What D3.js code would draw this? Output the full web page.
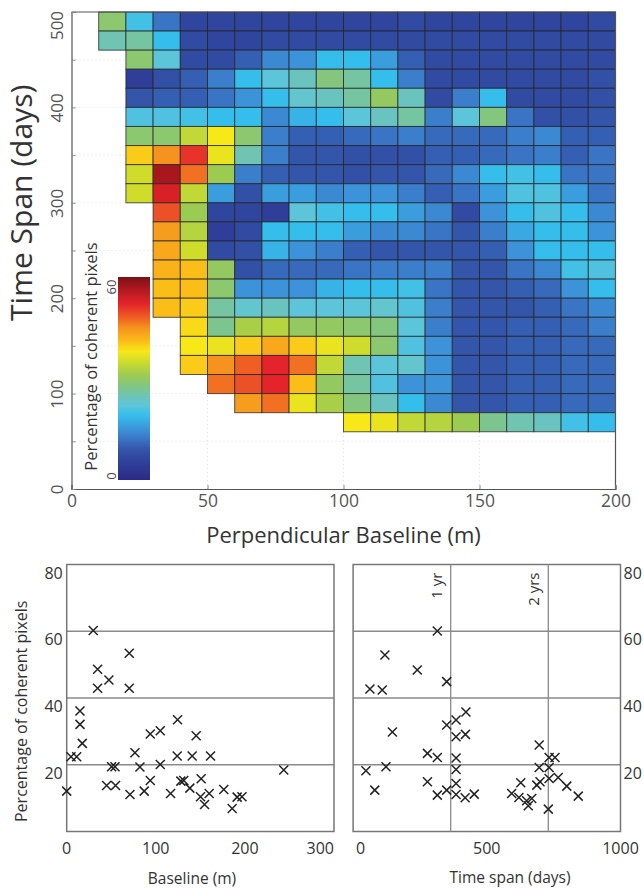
<!DOCTYPE html>
<html>
<head>
<meta charset="utf-8">
<script src="https://cdn.jsdelivr.net/npm/d3@7"></script>
<style>
  body { margin: 0; background: #fff; }
  svg { display: block; font-family: "Open Sans", sans-serif; }
</style>
</head>
<body>
<div id="chart"></div>
<script>
// (1) DATA

// heatmap: baseline bins (m, left edge) and time span bins (days, lower edge, top row first)
const baselineBins = [0, 10, 20, 30, 40, 50, 60, 70, 80, 90, 100, 110, 120, 130, 140, 150, 160, 170, 180, 190];
const timeBins = [480, 460, 440, 420, 400, 380, 360, 340, 320, 300, 280, 260, 240, 220, 200, 180, 160, 140, 120, 100, 80, 60];
const _ = null;
// percentage of coherent pixels, one row per time bin
const coherence = [
  [_, 29, 20, 12, 6, 6, 6, 6, 6, 6, 6, 6, 7, 6, 6, 6, 6, 6, 6, 7],
  [_, 25, 26, 19, 7, 6, 6, 7, 7, 7, 7, 7, 7, 7, 7, 7, 7, 7, 7, 7],
  [_, _, 29, 22, 7, 7, 10, 14, 15, 19, 19, 16, 10, 7, 7, 7, 7, 7, 7, 7],
  [_, _, 5, 8, 10, 13, 19, 22, 24, 28, 26, 19, 13, 7, 7, 7, 7, 7, 7, 8],
  [_, _, 9, 10, 10, 12, 15, 19, 23, 24, 26, 30, 24, 7, 13, 19, 7, 7, 7, 8],
  [_, _, 21, 21, 20, 19, 19, 14, 18, 19, 22, 24, 26, 13, 22, 28, 12, 8, 8, 9],
  [_, _, 29, 29, 34, 38, 29, 13, 10, 10, 11, 12, 13, 11, 11, 11, 13, 14, 10, 10],
  [_, _, 40, 45, 51, 37, 25, 13, 9, 9, 8, 8, 8, 10, 10, 11, 12, 13, 10, 12],
  [_, _, 35, 57, 47, 31, 13, 10, 9, 9, 8, 9, 9, 11, 14, 19, 20, 19, 12, 12],
  [_, _, 35, 53, 34, 16, 8, 16, 16, 14, 15, 15, 13, 10, 12, 16, 21, 21, 16, 12],
  [_, _, _, 49, 31, 6, 6, 5, 22, 20, 19, 19, 16, 14, 7, 15, 19, 21, 19, 14],
  [_, _, _, 44, 33, 5, 7, 19, 19, 19, 16, 14, 14, 12, 9, 13, 17, 19, 19, 15],
  [_, _, _, 43, 35, 7, 8, 18, 15, 13, 10, 9, 9, 9, 9, 10, 15, 19, 19, 19],
  [_, _, _, 42, 41, 30, 8, 11, 11, 11, 12, 13, 13, 13, 9, 9, 12, 14, 20, 21],
  [_, _, _, 41, 41, 29, 15, 15, 15, 18, 19, 19, 20, 12, 9, 9, 10, 11, 15, 19],
  [_, _, _, 41, 40, 26, 23, 24, 22, 22, 22, 23, 21, 13, 9, 9, 9, 10, 12, 14],
  [_, _, _, _, 39, 27, 32, 33, 30, 30, 29, 28, 22, 13, 9, 9, 10, 10, 11, 13],
  [_, _, _, _, 38, 37, 40, 43, 40, 37, 35, 29, 21, 15, 9, 9, 10, 10, 11, 11],
  [_, _, _, _, 40, 45, 48, 52, 47, 34, 25, 22, 23, 15, 9, 9, 10, 10, 11, 11],
  [_, _, _, _, _, 47, 49, 52, 41, 30, 26, 21, 15, 15, 9, 9, 10, 10, 11, 11],
  [_, _, _, _, _, _, 44, 47, 37, 32, 28, 24, 19, 14, 9, 9, 10, 10, 11, 11],
  [_, _, _, _, _, _, _, _, _, _, 38, 37, 34, 33, 31, 27, 25, 24, 20, 19]
];

// scatter: baseline (m) vs percentage
const baselineX = [29.8, 70.2, 34.7, 47.4, 34.7, 70.2, 14.9, 14.9, 17.5, 4.8, 11.2, 0, 50.4, 54.2, 44.8, 54.8, 71, 76.6, 82.2, 87, 93.8, 93.8, 105, 105, 116.6, 124.4, 124, 128.1, 131.4, 138.2, 140.8, 145.3, 150.9, 150.2, 154.7, 159.9, 161.4, 176.3, 185.7, 191.3, 196.7, 243.6];
const baselineY = [60.2, 53.4, 48.6, 45.4, 42.9, 42.9, 36.1, 32.1, 26.4, 22.4, 22.4, 12.1, 19.4, 19.4, 13.8, 13.8, 11.1, 23.6, 19.3, 12.1, 15.3, 29.2, 30.2, 20.1, 11.4, 33.5, 22.6, 15.1, 15.3, 13.0, 22.6, 28.7, 15.8, 10.4, 8.1, 11.4, 22.6, 12.6, 6.9, 10.3, 10.4, 18.4];

// scatter: time span (days) vs percentage
const spanX = [315, 119, 240, 350, 63, 109, 422, 385, 350, 147, 385, 420, 278, 315, 385, 385, 48, 123, 278, 385, 81, 315, 350, 385, 419, 453, 593, 627, 620, 649, 655, 668, 687, 699, 696, 696, 733, 733, 755, 733, 730, 767, 799, 842];
const spanY = [60.1, 52.9, 48.4, 44.9, 42.7, 42.4, 35.8, 33.4, 31.9, 29.8, 28.4, 29.1, 23.4, 22.2, 22.0, 18.6, 18.2, 19.4, 14.9, 14.4, 12.4, 10.9, 12.4, 11.1, 10.1, 11.2, 11.4, 14.6, 10.2, 9.2, 7.7, 9.9, 13.9, 14.9, 25.9, 19.2, 19.2, 22.2, 22.2, 15.9, 6.7, 16.2, 13.6, 10.6];

const yearMarks = [365, 730];
const yearLabels = ["1 yr", "2 yrs"];

// (2) SETUP
const width = 644, height = 888;
const svg = d3.select("#chart").append("svg")
  .attr("width", width).attr("height", height)
  .attr("viewBox", [0, 0, width, height]);
svg.append("rect").attr("width", width).attr("height", height).attr("fill", "#fff");

// printed "jet" palette
const colorStops = [0, 5, 9, 12, 15, 19, 22, 25, 28, 31, 35, 38, 41, 45, 48, 52, 57, 60];
const colorList = ["#2a2a85", "#2f3f99", "#3355aa", "#3a74c4", "#3c93d9", "#35bdec", "#5dc5da", "#6fc4b2",
  "#84c67e", "#9ccb52", "#cfdc2c", "#f7e818", "#fbbd18", "#f6921f", "#ef5f24", "#e4242a", "#a8171d", "#7a1214"];
const color = d3.scaleLinear().domain(colorStops).range(colorList).clamp(true);

// (3) HEATMAP
const hx = d3.scaleLinear().domain([0, 200]).range([71.5, 615.5]);
const hy = d3.scaleLinear().domain([0, 500]).range([489, 12]);

const hm = svg.append("g");

// faint dotted grid
hm.append("g").selectAll("line.v").data([50, 100, 150]).join("line")
  .attr("x1", d => hx(d)).attr("x2", d => hx(d)).attr("y1", hy(0)).attr("y2", hy(500))
  .attr("stroke", "#ddd").attr("stroke-dasharray", "1,3");
hm.append("g").selectAll("line.h").data([50, 100, 150, 200, 250, 300, 350, 400, 450]).join("line")
  .attr("x1", hx(0)).attr("x2", hx(200)).attr("y1", d => hy(d)).attr("y2", d => hy(d))
  .attr("stroke", "#ddd").attr("stroke-dasharray", "1,3");

const cells = [];
timeBins.forEach((t, i) => baselineBins.forEach((b, j) => {
  const v = coherence[i][j];
  if (v != null) cells.push({b, t, v});
}));

hm.append("g").selectAll("rect").data(cells).join("rect")
  .attr("x", d => hx(d.b))
  .attr("y", d => hy(d.t + 20))
  .attr("width", hx(10) - hx(0))
  .attr("height", hy(0) - hy(20))
  .attr("fill", d => color(d.v))
  .attr("stroke", "#222")
  .attr("stroke-opacity", 0.75)
  .attr("stroke-width", 1);

// frame
hm.append("path")
  .attr("d", `M${hx(0)},${hy(500)}H${hx(200)}V${hy(0)}`)
  .attr("fill", "none").attr("stroke", "#555").attr("stroke-width", 1.2);

// axes
const hxAxis = d3.axisBottom(hx).tickValues([0, 50, 100, 150, 200]).tickSize(-4).tickPadding(6);
hm.append("g").attr("transform", `translate(0,${hy(0)})`).call(hxAxis)
  .call(g => g.select(".domain").attr("stroke", "#555").attr("stroke-width", 1.2))
  .call(g => g.selectAll(".tick line").attr("stroke", "#888"))
  .call(g => g.selectAll("text").attr("font-size", 17.5).attr("fill", "#555")
    .attr("font-family", "Open Sans, sans-serif"));

const hyAxis = d3.axisLeft(hy).tickValues([0, 50, 100, 150, 200, 250, 300, 350, 400, 450, 500])
  .tickSize(-4).tickFormat(d => d % 100 === 0 ? d : "");
hm.append("g").attr("transform", `translate(${hx(0)},0)`).call(hyAxis)
  .call(g => g.select(".domain").attr("stroke", "#555").attr("stroke-width", 1.2))
  .call(g => g.selectAll(".tick line").attr("stroke", "#888"))
  .call(g => g.selectAll("text")
    .attr("font-size", 17).attr("fill", "#555").attr("font-family", "Open Sans, sans-serif")
    .attr("x", null).attr("dy", null)
    .attr("text-anchor", "middle")
    .attr("transform", d => `translate(-9,${d === 500 ? 13 : 0}) rotate(-90)`));

svg.append("text")
  .attr("x", (hx(0) + hx(200)) / 2).attr("y", 543)
  .attr("text-anchor", "middle").attr("font-size", 22).attr("fill", "#333")
  .text("Perpendicular Baseline (m)");

svg.append("text")
  .attr("transform", `translate(32,${hy(300)}) rotate(-90)`)
  .attr("text-anchor", "middle").attr("font-size", 30).attr("fill", "#333")
  .text("Time Span (days)");

// colorbar
const cb = d3.scaleLinear().domain([0, 60]).range([480, 277]);
const grad = svg.append("defs").append("linearGradient")
  .attr("id", "jet").attr("x1", 0).attr("y1", 1).attr("x2", 0).attr("y2", 0);
grad.selectAll("stop").data(colorStops).join("stop")
  .attr("offset", d => d / 60)
  .attr("stop-color", d => color(d));
svg.append("rect")
  .attr("x", 118).attr("y", cb(60)).attr("width", 32).attr("height", cb(0) - cb(60))
  .attr("fill", "url(#jet)");
svg.append("g").selectAll("text").data([0, 60]).join("text")
  .attr("transform", d => `translate(116,${d === 60 ? cb(d) + 10 : cb(d) - 4}) rotate(-90)`)
  .attr("text-anchor", "middle").attr("font-size", 13).attr("fill", "#444")
  .text(d => d);
svg.append("text")
  .attr("transform", `translate(97,${(cb(0) + cb(60)) / 2 - 22}) rotate(-90)`)
  .attr("text-anchor", "middle").attr("font-size", 16.5).attr("fill", "#333")
  .text("Percentage of coherent pixels");

// (4) SCATTER PANELS
const py = d3.scaleLinear().domain([0, 80]).range([831.5, 564.5]);
const bx = d3.scaleLinear().domain([0, 300]).range([66.7, 334]);
const tx = d3.scaleLinear().domain([0, 1000]).range([353.1, 620.5]);

function cross(g, xs, ys, xScale) {
  const s = 4.5;
  g.append("g").selectAll("path").data(xs.map((x, i) => [x, ys[i]])).join("path")
    .attr("d", d => {
      const cx = xScale(d[0]), cy = py(d[1]);
      return `M${cx - s},${cy - s}L${cx + s},${cy + s}M${cx - s},${cy + s}L${cx + s},${cy - s}`;
    })
    .attr("stroke", "#222").attr("stroke-width", 1.5).attr("fill", "none");
}

function panel(xScale, ticks, labelSide) {
  const g = svg.append("g");
  const [x0, x1] = xScale.range();
  g.append("g").selectAll("line").data([20, 40, 60]).join("line")
    .attr("x1", x0).attr("x2", x1).attr("y1", d => py(d)).attr("y2", d => py(d))
    .attr("stroke", "#8a8a8a").attr("stroke-width", 1.3);
  g.append("rect")
    .attr("x", x0).attr("y", py(80)).attr("width", x1 - x0).attr("height", py(0) - py(80))
    .attr("fill", "none").attr("stroke", "#777").attr("stroke-width", 1.5);
  g.append("g").selectAll("text").data(ticks).join("text")
    .attr("x", d => xScale(d)).attr("y", 854)
    .attr("text-anchor", (d, i) => i === 0 && labelSide === "right" ? "start" : (i === ticks.length - 1 && labelSide === "left" ? "end" : "middle"))
    .attr("dx", (d, i) => i === 0 && labelSide === "right" ? 3 : 0)
    .attr("font-size", 16).attr("fill", "#333")
    .text(d => d);
  g.append("g").selectAll("text.y").data([20, 40, 60, 80]).join("text")
    .attr("x", labelSide === "left" ? x0 - 4 : x1 + 3)
    .attr("y", d => py(d) + 14)
    .attr("text-anchor", labelSide === "left" ? "end" : "start")
    .attr("font-size", 16).attr("fill", "#333")
    .text(d => d);
  return g;
}

const left = panel(bx, [0, 100, 200, 300], "left");
cross(left, baselineX, baselineY, bx);
left.append("text").attr("x", 192).attr("y", 884).attr("text-anchor", "middle")
  .attr("font-size", 15.5).attr("fill", "#333").text("Baseline (m)");
left.append("text")
  .attr("transform", `translate(27,${py(36)}) rotate(-90)`)
  .attr("text-anchor", "middle").attr("font-size", 16).attr("fill", "#333")
  .text("Percentage of coherent pixels");

const right = panel(tx, [0, 500, 1000], "right");
right.append("g").selectAll("line").data(yearMarks).join("line")
  .attr("x1", d => tx(d)).attr("x2", d => tx(d)).attr("y1", py(80)).attr("y2", py(0))
  .attr("stroke", "#8a8a8a").attr("stroke-width", 1.3);
right.append("g").selectAll("text").data(yearMarks).join("text")
  .attr("transform", d => `translate(${tx(d) - 9},${py(80) + 8}) rotate(-90)`)
  .attr("text-anchor", "end").attr("font-size", 15).attr("fill", "#333")
  .text((d, i) => yearLabels[i]);
cross(right, spanX, spanY, tx);
right.append("text").attr("x", 510).attr("y", 883).attr("text-anchor", "middle")
  .attr("font-size", 15.5).attr("fill", "#333").text("Time span (days)");
</script>
</body>
</html>
